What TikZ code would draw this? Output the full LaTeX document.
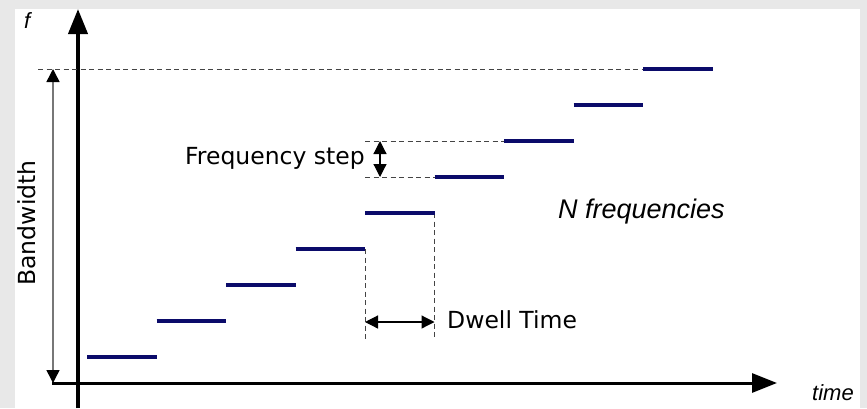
\documentclass[tikz,border=0pt]{standalone}
\usepackage{fontspec}
\setmainfont{DejaVu Sans}
\newfontfamily\arialfont{Liberation Sans}
\usetikzlibrary{arrows.meta}
\definecolor{framegray}{HTML}{E8E8E8}
\definecolor{navy}{HTML}{0B0B6A}
\definecolor{dashgray}{HTML}{444444}
\definecolor{bwgray}{HTML}{777777}
\tikzset{
  stepline/.style={line width=4.5pt, draw=navy},
  dashline/.style={draw=dashgray, line width=1pt, dash pattern=on 5pt off 3.5pt},
  axisline/.style={draw=black, -{Triangle[length=25pt,width=19pt]}},
  bwarrow/.style={draw=bwgray, line width=1.5pt,
    {Triangle[length=13pt,width=13pt,color=black]}-{Triangle[length=13pt,width=13pt,color=black]}},
  dimarrow/.style={draw=black, line width=1.2pt,
    {Triangle[length=13pt,width=13pt]}-{Triangle[length=13pt,width=13pt]}},
  lbl/.style={inner sep=0pt, font=\fontsize{23.5}{26}\selectfont},
  itlbl/.style={inner sep=0pt, font=\arialfont\itshape\fontsize{22}{24}\selectfont},
}
\begin{document}
\begin{tikzpicture}[x=1pt,y=-1pt]
\useasboundingbox (0,0) rectangle (867,408);
\fill[framegray] (0,0) rectangle (867,408);
\fill[white] (15,9) rectangle (860,408);

% axes
\coordinate (yb) at (78,408);
\coordinate (yt) at (78,9);
\coordinate (xl) at (52,383);
\coordinate (xr) at (777,383);
\draw[axisline, line width=4pt] (yb) -- (yt);
\draw[axisline, line width=3pt] (xl) -- (xr);
\node[itlbl, anchor=base west] (flbl) at (24,28) {f};
\node[itlbl, anchor=base west] (tlbl) at (812,400) {time};

% step end points
\foreach \i in {0,...,9} {
  \pgfmathsetmacro{\xx}{87+69.5*\i}
  \coordinate (x\i) at (\xx,0);
}
\foreach \k in {1,...,9} {
  \pgfmathsetmacro{\yy}{357-36*(\k-1)}
  \pgfmathtruncatemacro{\km}{\k-1}
  \coordinate (a\k) at (x\km |- 0,\yy);
  \coordinate (b\k) at (x\k |- 0,\yy);
}

% dashed guides
\coordinate (bwtop) at (38,69);
\draw[dashline] (bwtop) -- (a9);
\coordinate (fsa) at (x4 |- a7);
\coordinate (fsb) at (x4 |- a6);
\draw[dashline] (fsa) -- (a7);
\draw[dashline] (fsb) -- (a6);
\coordinate (dwa) at (x4 |- 0,340);
\coordinate (dwb) at (x5 |- 0,340);
\draw[dashline] (b4) -- (dwa);
\draw[dashline] (b5) -- (dwb);

% steps
\foreach \k in {1,...,9} {
  \draw[stepline] (a\k) -- (b\k);
}

% bandwidth arrow
\coordinate (bwt) at (53,69);
\coordinate (bwb) at (53,383);
\draw[bwarrow] (bwt) -- (bwb);
\node[lbl, rotate=90, anchor=base] (bwlbl) at (35,223) {Bandwidth};

% frequency step arrow
\coordinate (fst) at (380,141);
\coordinate (fsbt) at (380,177);
\draw[dimarrow] (fst) -- (fsbt);
\node[lbl, anchor=base east] (fslbl) at (365,164) {Frequency step};

% dwell time arrow
\coordinate (dwl) at (x4 |- 0,322);
\coordinate (dwr) at (x5 |- 0,322);
\draw[dimarrow] (dwl) -- (dwr);
\node[lbl, anchor=base west] (dwlbl) at (447,328) {Dwell Time};

% N frequencies
\node[inner sep=0pt, font=\arialfont\itshape\fontsize{27}{30}\selectfont, anchor=base west] (nf) at (558,218) {N frequencies};
\end{tikzpicture}
\end{document}
